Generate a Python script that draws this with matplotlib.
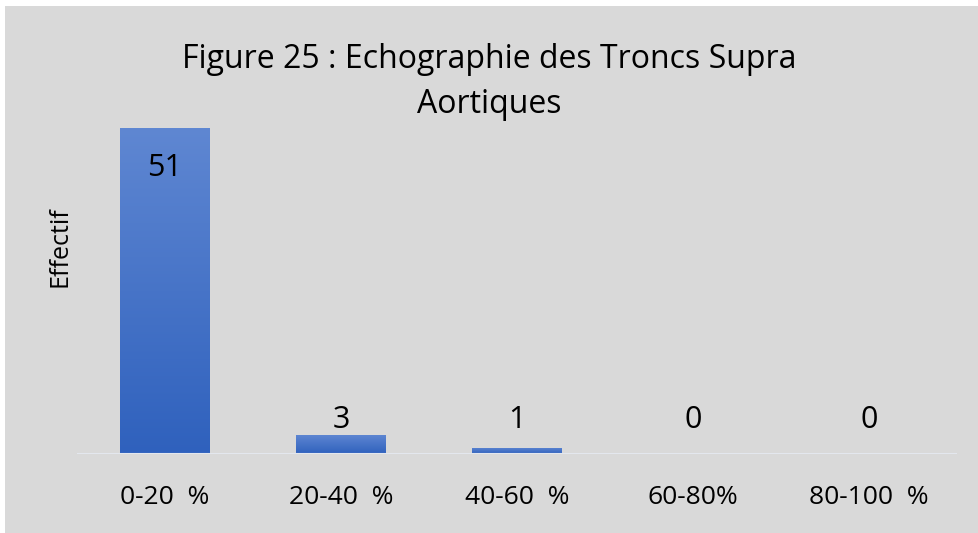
import numpy as np
import matplotlib.pyplot as plt
from matplotlib.colors import LinearSegmentedColormap
from matplotlib.patches import Rectangle

categories = ["0-20  %", "20-40  %", "40-60  %", "60-80%", "80-100  %"]
effectif = [51, 3, 1, 0, 0]

plt.rcParams['font.family'] = ['Open Sans', 'DejaVu Sans']

fig = plt.figure(figsize=(9.79, 5.33), dpi=100)
fig.patch.set_facecolor('white')
# grey chart area
fig.patches.append(Rectangle((5/979, 0), 1, 1 - 6/533, transform=fig.transFigure,
                             facecolor='#d9d9d9', edgecolor='none', zorder=-10))

ax = fig.add_axes([77/979, 79/533, 880/979, 326/533])
ax.set_facecolor('none')

grad = LinearSegmentedColormap.from_list('bar', ['#2f61bd', '#5f87d2'])
width = 0.51
for i, v in enumerate(effectif):
    bars = ax.bar(i, v, width=width, color='none', edgecolor='none', zorder=2)
    if v > 0:
        img = ax.imshow(np.linspace(0, 1, 256).reshape(-1, 1), cmap=grad, origin='lower',
                        extent=[i - width/2, i + width/2, 0, v], aspect='auto', zorder=2)
        img.set_clip_path(bars[0])
    # labels: inside end for the big bar, same row above the small ones
    if v > 10:
        ax.text(i, v - 6.2, str(v), ha='center', va='center', fontsize=22, color='black')
    else:
        ax.text(i, 5.3, str(v), ha='center', va='center', fontsize=22, color='black')
ax.set_xlim(-0.5, 4.5)
ax.set_ylim(0, 51)

ax.axhline(0, color='#e3e7ee', lw=1.5, zorder=3)
for s in ax.spines.values():
    s.set_visible(False)
ax.set_yticks([])
ax.set_xticks(range(len(categories)))
ax.set_xticklabels(categories, fontsize=19)
ax.tick_params(axis='x', length=0, pad=22)

fig.text(60/979, 1 - 247/533, "Effectif", rotation=90, ha='center', va='center', fontsize=18)
fig.text(0.5, 1 - 82/533, "Figure 25 : Echographie des Troncs Supra\nAortiques", ha='center',
         va='center', fontsize=23, linespacing=1.5)

fig.savefig('out.png', dpi=100)
